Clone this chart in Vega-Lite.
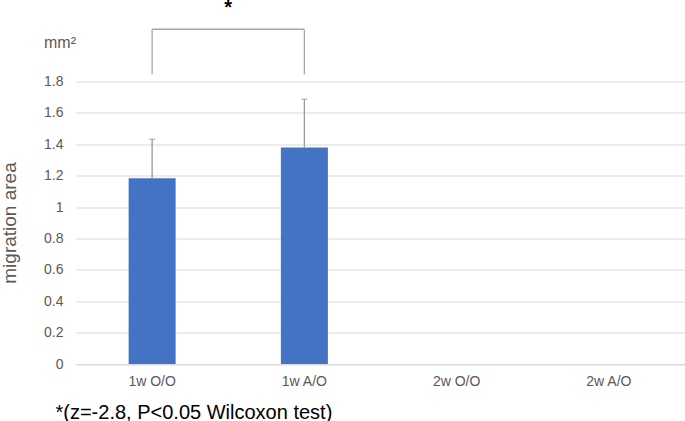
{
  "$schema": "https://vega.github.io/schema/vega-lite/v6.json",
  "width": 609,
  "height": 282.5,
  "autosize": {"type": "none"},
  "padding": {"left": 76, "top": 81.5, "right": 0, "bottom": 57},
  "background": "white",
  "config": {"view": {"stroke": null}, "font": "Liberation Sans"},
  "datasets": {
    "bars": [
      {"g": "1w O/O", "v": 1.183, "hi": 1.432},
      {"g": "1w A/O", "v": 1.379, "hi": 1.687},
      {"g": "2w O/O", "v": null, "hi": null},
      {"g": "2w A/O", "v": null, "hi": null}
    ],
    "bracket": [
      {"g1": "1w O/O", "g2": "1w A/O", "y": 2.133}
    ],
    "legs": [
      {"g": "1w O/O", "lo": 1.846, "top": 2.133},
      {"g": "1w A/O", "lo": 1.846, "top": 2.133}
    ],
    "star": [
      {"g": "1w O/O", "y": 2.27, "t": "*"}
    ],
    "unit": [
      {"g": "1w O/O", "y": 2.045, "t": "mm²"}
    ]
  },
  "layer": [
    {
      "data": {"name": "bars"},
      "mark": {"type": "bar", "size": 47, "color": "#4472C4"},
      "encoding": {
        "x": {"field": "g", "type": "nominal", "sort": null,
              "scale": {"domain": ["1w O/O", "1w A/O", "2w O/O", "2w A/O"], "paddingInner": 0, "paddingOuter": 0},
              "axis": {"title": "*(z=-2.8, P<0.05 Wilcoxon test)", "titleX": -21, "titleY": 48, "titleAlign": "left", "titleAnchor": "start", "titleBaseline": "middle", "titleFontSize": 20, "titleFontWeight": "normal", "titleColor": "#000000", "titleFont": "Liberation Sans",
                       "labelAngle": 0, "labelFontSize": 14, "labelColor": "#595959", "labelPadding": 10, "ticks": false, "domain": true, "domainColor": "#d9d9d9", "labelFont": "Liberation Sans"}},
        "y": {"field": "v", "type": "quantitative",
              "scale": {"domain": [0, 1.8], "nice": false},
              "axis": {"title": "migration area", "titleX": -67, "titleY": 141, "titleAngle": -90, "titleAlign": "center", "titleBaseline": "middle", "titleFontSize": 19, "titleFontWeight": "normal", "titleColor": "#595959", "titleFont": "Liberation Sans",
                       "tickCount": 9, "format": "~g", "labelOverlap": false,
                       "labelFontSize": 14, "labelColor": "#595959", "labelPadding": 13, "ticks": false, "domain": false, "grid": true, "gridColor": "#d9d9d9", "labelFont": "Liberation Sans"}}
      }
    },
    {
      "data": {"name": "bars"},
      "mark": {"type": "rule", "color": "#999999", "strokeWidth": 1.3},
      "encoding": {
        "x": {"field": "g", "type": "nominal", "sort": null},
        "y": {"field": "v", "type": "quantitative"},
        "y2": {"field": "hi"}
      }
    },
    {
      "data": {"name": "bars"},
      "mark": {"type": "tick", "color": "#999999", "size": 6, "thickness": 1.3, "orient": "horizontal"},
      "encoding": {
        "x": {"field": "g", "type": "nominal", "sort": null},
        "y": {"field": "hi", "type": "quantitative"}
      }
    },
    {
      "data": {"name": "bracket"},
      "mark": {"type": "rule", "color": "#a6a6a6", "strokeWidth": 1.3},
      "encoding": {
        "x": {"field": "g1", "type": "nominal", "sort": null},
        "x2": {"field": "g2"},
        "y": {"field": "y", "type": "quantitative"}
      }
    },
    {
      "data": {"name": "legs"},
      "mark": {"type": "rule", "color": "#a6a6a6", "strokeWidth": 1.3},
      "encoding": {
        "x": {"field": "g", "type": "nominal", "sort": null},
        "y": {"field": "lo", "type": "quantitative"},
        "y2": {"field": "top"}
      }
    },
    {
      "data": {"name": "star"},
      "mark": {"type": "text", "fontSize": 20, "fontWeight": "bold", "color": "#000000", "baseline": "middle", "align": "center", "font": "Liberation Sans"},
      "encoding": {
        "x": {"field": "g", "type": "nominal", "sort": null, "bandPosition": 1},
        "y": {"field": "y", "type": "quantitative"},
        "text": {"field": "t"}
      }
    },
    {
      "data": {"name": "unit"},
      "mark": {"type": "text", "fontSize": 16, "color": "#595959", "baseline": "middle", "align": "right", "font": "Liberation Sans"},
      "encoding": {
        "x": {"field": "g", "type": "nominal", "sort": null, "bandPosition": 0},
        "y": {"field": "y", "type": "quantitative"},
        "text": {"field": "t"}
      }
    }
  ]
}
